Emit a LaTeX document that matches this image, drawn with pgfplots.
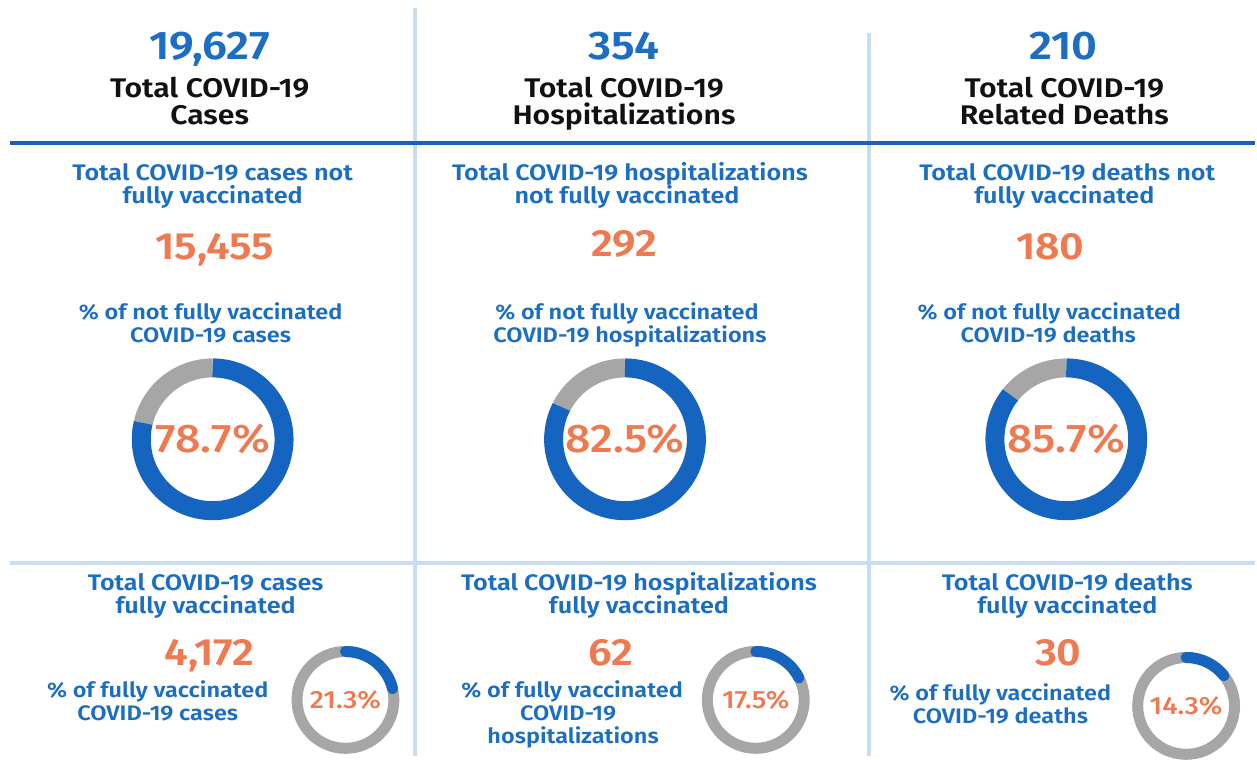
\documentclass[border=0pt]{standalone}
\usepackage{pgfplots}
\pgfplotsset{compat=1.18}
\usepackage{pgfplotstable}
\usepackage{fontspec}
\setmainfont{Fira Sans}[FakeStretch=1.12, BoldFont={Fira Sans SemiBold}]
\newfontfamily\medfont{Fira Sans Medium}[FakeStretch=1.12]
\definecolor{tblue}{HTML}{1B6EC2}
\definecolor{dblue}{HTML}{1565C0}
\definecolor{lineblue}{HTML}{1A62B8}
\definecolor{lblue}{HTML}{C8DDF2}
\definecolor{orng}{HTML}{EE7A52}
\definecolor{gry}{HTML}{A6A6A6}
\definecolor{txt}{HTML}{111111}
% donuts: cx cy r w pct
\pgfplotstableread{
cx cy r w pct
213 440 71.5 19 78.7
626 440 71.5 19 82.5
1068 440 71.5 19 85.7
346 701 48.5 11 21.3
757 701 48.5 11 17.5
1188 707 48.5 11 14.3
}\donuts
\newcommand\bigdonut[3]{%
  \draw[line width=19pt, gry] (axis cs:#1,#2) ++(90:71.5pt) arc[start angle=90, delta angle={(100-#3)*3.6}, radius=71.5pt];
  \draw[line width=19pt, dblue] (axis cs:#1,#2) ++(90:71.5pt) arc[start angle=90, delta angle={-#3*3.6}, radius=71.5pt];
  \node[font=\medfont\fontsize{40}{40}\selectfont, text=orng] at (axis cs:#1,#2) {#3\%};
}
\newcommand\smalldonut[3]{%
  \draw[line width=11pt, gry] (axis cs:#1,#2) circle[radius=48.5pt];
  \draw[line width=11pt, dblue, line cap=round] (axis cs:#1,#2) ++(90:48.5pt) arc[start angle=90, delta angle={-#3*3.6}, radius=48.5pt];
  \node[font=\medfont\fontsize{25}{25}\selectfont, text=orng] at (axis cs:#1,#2) {#3\%};
}
\begin{document}
\begin{tikzpicture}
\begin{axis}[
  scale only axis, width=1257pt, height=757pt,
  xmin=0, xmax=1257, ymin=0, ymax=757, y dir=reverse,
  hide axis, clip=false,
]
\fill[white] (axis cs:0,0) rectangle (axis cs:1257,757);
% separators
\draw[lblue, line width=4pt] (axis cs:416,8) -- (axis cs:416,757);
\draw[lblue, line width=4pt] (axis cs:870,33) -- (axis cs:870,757);
\draw[lblue, line width=4pt] (axis cs:10,564) -- (axis cs:1257,564);
\draw[lineblue, line width=4pt] (axis cs:10,143) -- (axis cs:1257,143);

% header
\tikzset{big/.style={anchor=base, font=\bfseries\fontsize{40}{40}\selectfont, text=tblue},
  hdr/.style={anchor=base, font=\bfseries\fontsize{27}{27}\selectfont, text=txt},
  sub/.style={anchor=base, font=\bfseries\fontsize{22.5}{22.5}\selectfont, text=tblue},
  pct/.style={anchor=base, font=\bfseries\fontsize{21}{21}\selectfont, text=tblue},
  onum/.style={anchor=base, font=\bfseries\fontsize{38}{38}\selectfont, text=orng}}
\node[big] at (axis cs:210,60) {19,627};
\node[hdr] at (axis cs:210,98) {Total COVID-19};
\node[hdr] at (axis cs:210,125) {Cases};
\node[big] at (axis cs:625,60) {354};
\node[hdr] at (axis cs:625,98) {Total COVID-19};
\node[hdr] at (axis cs:625,125) {Hospitalizations};
\node[big] at (axis cs:1065,60) {210};
\node[hdr] at (axis cs:1066,98) {Total COVID-19};
\node[hdr] at (axis cs:1066,125) {Related Deaths};

% middle
\node[sub] at (axis cs:213,181) {Total COVID-19 cases not};
\node[sub] at (axis cs:213,204) {fully vaccinated};
\node[sub] at (axis cs:631,181) {Total COVID-19 hospitalizations};
\node[sub] at (axis cs:628,204) {not fully vaccinated};
\node[sub] at (axis cs:1069,181) {Total COVID-19 deaths not};
\node[sub] at (axis cs:1066,204) {fully vaccinated};
\node[onum] at (axis cs:215,260) {15,455};
\node[onum] at (axis cs:625,257) {292};
\node[onum] at (axis cs:1052,260) {180};
\node[pct] at (axis cs:211,320) {\% of not fully vaccinated};
\node[pct] at (axis cs:211,343) {COVID-19 cases};
\node[pct] at (axis cs:628,320) {\% of not fully vaccinated};
\node[pct] at (axis cs:631,343) {COVID-19 hospitalizations};
\node[pct] at (axis cs:1051,320) {\% of not fully vaccinated};
\node[pct] at (axis cs:1050,343) {COVID-19 deaths};

\bigdonut{213}{440}{78.7}
\bigdonut{626}{440}{82.5}
\bigdonut{1068}{440}{85.7}

% bottom
\node[sub] at (axis cs:206,591) {Total COVID-19 cases};
\node[sub] at (axis cs:206,614) {fully vaccinated};
\node[sub] at (axis cs:640,591) {Total COVID-19 hospitalizations};
\node[sub] at (axis cs:640,614) {fully vaccinated};
\node[sub] at (axis cs:1069,591) {Total COVID-19 deaths};
\node[sub] at (axis cs:1069,614) {fully vaccinated};
\node[onum] at (axis cs:210,667) {4,172};
\node[onum] at (axis cs:612,667) {62};
\node[onum] at (axis cs:1060,667) {30};
\node[pct] at (axis cs:158,699) {\% of fully vaccinated};
\node[pct] at (axis cs:158,722) {COVID-19 cases};
\node[pct] at (axis cs:573,699) {\% of fully vaccinated};
\node[pct] at (axis cs:569,722) {COVID-19};
\node[pct] at (axis cs:574,745) {hospitalizations};
\node[pct] at (axis cs:1002,702) {\% of fully vaccinated};
\node[pct] at (axis cs:1002,725) {COVID-19 deaths};

\smalldonut{346}{701}{21.3}
\smalldonut{757}{701}{17.5}
\smalldonut{1188}{707}{14.3}
\end{axis}
\end{tikzpicture}
\end{document}
